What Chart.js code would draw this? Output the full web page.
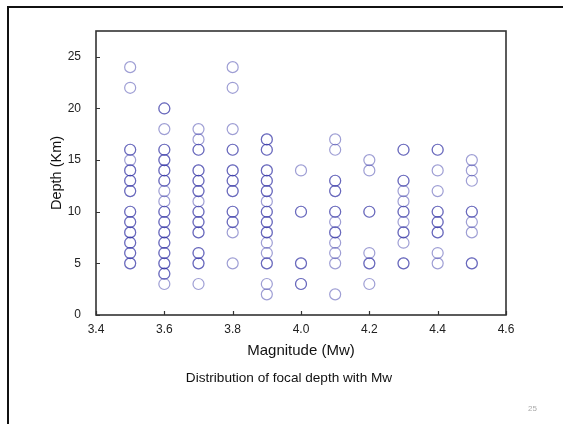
<!DOCTYPE html>
<html>
<head>
<meta charset="utf-8">
<script src="https://cdn.jsdelivr.net/npm/chart.js@4/dist/chart.umd.min.js"></script>
<style>
    html, body { margin: 0; padding: 0; background: #fff; overflow: hidden; }
    body { width: 563px; height: 424px; position: relative; font-family: "Liberation Sans", Arial, sans-serif; }
    #slide { position: absolute; left: 7px; top: 6px; width: 620px; height: 500px; border: 2px solid #111; }
    #chart { position: absolute; left: 0; top: 0; }
    #caption { position: absolute; left: 89px; width: 400px; top: 370px; text-align: center; font-size: 13.6px; color: #111; }
    #pageno { position: absolute; left: 528px; top: 404px; font-size: 8px; color: #aaa; }
</style>
</head>
<body>
<div id="slide"></div>
<canvas id="chart" width="563" height="424"></canvas>
<div id="caption">Distribution of focal depth with Mw</div>
<div id="pageno">25</div>
<script>
// Magnitude columns and focal depths
// (a depth listed twice is a darker, overlapping circle)
const magnitudes = [3.5, 3.6, 3.7, 3.8, 3.9, 4.0, 4.1, 4.2, 4.3, 4.4, 4.5];
const depths35 = [24, 22, 16, 16, 15, 14, 14, 13, 13, 12, 12, 10, 10, 9, 9, 8, 8, 7, 7, 6, 6, 5, 5];
const depths36 = [20, 20, 18, 16, 16, 15, 15, 14, 14, 13, 13, 12, 11, 10, 10, 9, 9, 8, 8, 7, 7, 6, 6, 5, 5, 4, 4, 3];
const depths37 = [18, 17, 16, 16, 14, 14, 13, 13, 12, 12, 11, 10, 10, 9, 9, 8, 8, 6, 6, 5, 5, 3];
const depths38 = [24, 22, 18, 16, 16, 14, 14, 13, 13, 12, 12, 10, 10, 9, 9, 8, 5];
const depths39 = [17, 17, 16, 16, 14, 14, 13, 13, 12, 12, 11, 10, 10, 9, 9, 8, 8, 7, 6, 5, 5, 3, 2];
const depths40 = [14, 10, 10, 5, 5, 3, 3];
const depths41 = [17, 16, 13, 13, 12, 12, 10, 10, 9, 8, 8, 7, 6, 5, 2];
const depths42 = [15, 14, 10, 10, 6, 5, 5, 3];
const depths43 = [16, 16, 13, 13, 12, 11, 10, 10, 9, 8, 8, 7, 5, 5];
const depths44 = [16, 16, 14, 12, 10, 10, 9, 9, 8, 8, 6, 5];
const depths45 = [15, 14, 13, 10, 10, 9, 8, 5, 5];
const depthColumns = [depths35, depths36, depths37, depths38, depths39, depths40,
    depths41, depths42, depths43, depths44, depths45];

const xTicks = [3.4, 4.6, 0.2];   // min, max, step
const yTicks = [0, 27.5, 5];

// build the point list
const points = [];
magnitudes.forEach((m, i) => {
    depthColumns[i].forEach(d => points.push({ x: m, y: d }));
});

// frame round the plot and inward tick marks
const framePlugin = {
    id: 'frame',
    afterDraw(chart) {
        const ctx = chart.ctx;
        const { left, right, top, bottom } = chart.chartArea;
        ctx.save();
        ctx.strokeStyle = '#333';
        ctx.lineWidth = 1.6;
        ctx.strokeRect(left, top, right - left, bottom - top);
        ctx.lineWidth = 1.2;
        ctx.beginPath();
        chart.scales.x.ticks.forEach(t => {
            const px = Math.round(chart.scales.x.getPixelForValue(t.value)) + 0.5;
            ctx.moveTo(px, bottom);
            ctx.lineTo(px, bottom - 4);
        });
        chart.scales.y.ticks.forEach(t => {
            const py = Math.round(chart.scales.y.getPixelForValue(t.value)) + 0.5;
            ctx.moveTo(left, py);
            ctx.lineTo(left + 4, py);
        });
        ctx.stroke();
        ctx.restore();
    }
};

const tickFont = { family: '"Liberation Sans", Arial, sans-serif', size: 12 };
const titleFont = { family: '"Liberation Sans", Arial, sans-serif', size: 15 };

new Chart(document.getElementById('chart'), {
    type: 'scatter',
    data: {
        datasets: [{
            data: points,
            pointStyle: 'circle',
            pointRadius: 5.5,
            pointBorderWidth: 1.2,
            borderColor: 'rgba(40, 40, 160, 0.45)',
            backgroundColor: 'rgba(0, 0, 0, 0)'
        }]
    },
    options: {
        responsive: false,
        devicePixelRatio: 1,
        animation: false,
        events: [],
        layout: { padding: { left: 48, top: 31, right: 57, bottom: 64 } },
        plugins: { legend: { display: false }, tooltip: { enabled: false } },
        scales: {
            x: {
                type: 'linear',
                min: xTicks[0],
                max: xTicks[1],
                grid: { display: false, drawTicks: false },
                border: { display: false },
                ticks: {
                    stepSize: xTicks[2],
                    padding: 7,
                    color: '#222',
                    font: tickFont,
                    maxRotation: 0,
                    callback: v => v.toFixed(1)
                },
                title: { display: true, text: 'Magnitude (Mw)', color: '#111', font: titleFont, padding: { top: 0, bottom: 0 } },
                afterFit: s => { s.height = 45; }
            },
            y: {
                type: 'linear',
                min: yTicks[0],
                max: yTicks[1],
                grid: { display: false, drawTicks: false },
                border: { display: false },
                ticks: {
                    stepSize: yTicks[2],
                    includeBounds: false,
                    padding: 15,
                    color: '#222',
                    font: tickFont
                },
                title: { display: true, text: 'Depth (Km)', color: '#111', font: { family: titleFont.family, size: 14.5 }, padding: { top: 0, bottom: 0 } },
                afterFit: s => { s.width = 48; }
            }
        }
    },
    plugins: [framePlugin]
});
</script>
</body>
</html>
